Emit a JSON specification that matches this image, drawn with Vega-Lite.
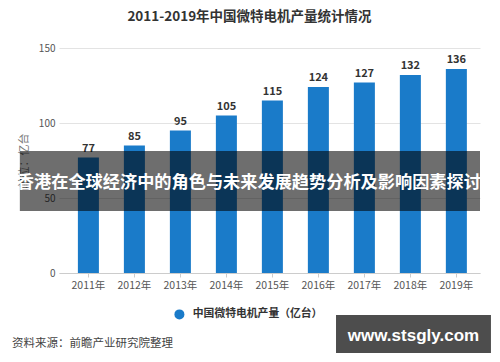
{
  "$schema": "https://vega.github.io/schema/vega-lite/v6.json",
  "width": 421,
  "height": 225,
  "autosize": {"type": "none"},
  "padding": {"left": 59, "top": 48, "right": 20, "bottom": 89},
  "background": "white",
  "config": {"font": "Noto Sans CJK SC", "view": {"stroke": null}},
  "title": {"text": "2011-2019年中国微特电机产量统计情况", "fontSize": 13.5, "fontWeight": "bold", "color": "#333333", "dx": -20, "offset": 20, "anchor": "middle"},
  "data": {"values": [
    {"year": "2011年", "value": 77, "series": "中国微特电机产量（亿台）"},
    {"year": "2012年", "value": 85, "series": "中国微特电机产量（亿台）"},
    {"year": "2013年", "value": 95, "series": "中国微特电机产量（亿台）"},
    {"year": "2014年", "value": 105, "series": "中国微特电机产量（亿台）"},
    {"year": "2015年", "value": 115, "series": "中国微特电机产量（亿台）"},
    {"year": "2016年", "value": 124, "series": "中国微特电机产量（亿台）"},
    {"year": "2017年", "value": 127, "series": "中国微特电机产量（亿台）"},
    {"year": "2018年", "value": 132, "series": "中国微特电机产量（亿台）"},
    {"year": "2019年", "value": 136, "series": "中国微特电机产量（亿台）"}
  ]},
  "layer": [
    {
      "encoding": {
        "x": {"field": "year", "type": "nominal", "sort": null,
          "scale": {"paddingInner": 0.543, "paddingOuter": 0.348, "align": 0.59},
          "axis": {"title": null, "labelAngle": 0, "labelFontSize": 10.5, "labelColor": "#555555", "domainColor": "#cccccc", "tickColor": "#cccccc", "tickSize": 4, "labelPadding": 3, "grid": false}},
        "y": {"field": "value", "type": "quantitative", "scale": {"domain": [0, 150], "nice": false},
          "axis": {"values": [0, 50, 100, 150], "grid": true, "gridColor": "#e3e3e3", "domain": false, "ticks": false, "labelFontSize": 10, "labelColor": "#555555", "labelPadding": 4, "title": "单位：亿台", "titleFontSize": 11, "titleColor": "#777777", "titleFontWeight": "normal", "titlePadding": 9}}
      },
      "layer": [
        {
          "mark": {"type": "bar"},
          "encoding": {
            "color": {"field": "series", "type": "nominal", "scale": {"range": ["#1a7bc9"]},
              "legend": {"orient": "none", "legendX": 115, "legendY": 261, "title": null, "symbolType": "circle", "symbolSize": 100, "symbolStrokeWidth": 0, "labelFontSize": 10.8, "labelFontWeight": "bold", "labelColor": "#333333", "padding": 0, "labelOffset": 8}}
          }
        },
        {
          "mark": {"type": "text", "baseline": "bottom", "dy": -4, "fontWeight": "bold", "fontSize": 11, "color": "#333333"},
          "encoding": {
            "text": {"field": "value", "type": "quantitative"}
          }
        }
      ]
    },
    {
      "data": {"values": [{}]},
      "mark": {"type": "rect", "color": "black", "opacity": 0.57},
      "encoding": {
        "x": {"datum": -0.093, "type": "quantitative", "scale": {"domain": [0, 1], "nice": false, "zero": false}, "axis": null},
        "x2": {"datum": 1.0},
        "y": {"datum": 81.3, "type": "quantitative", "scale": {"domain": [0, 150], "nice": false}, "axis": null},
        "y2": {"datum": 41.3}
      }
    },
    {
      "data": {"values": [{"label": "香港在全球经济中的角色与未来发展趋势分析及影响因素探讨"}]},
      "mark": {"type": "text", "color": "white", "fontSize": 17.2, "fontWeight": "bold", "align": "center", "baseline": "middle"},
      "encoding": {
        "x": {"datum": 0.451, "type": "quantitative", "scale": {"domain": [0, 1], "nice": false, "zero": false}, "axis": null},
        "y": {"datum": 60, "type": "quantitative", "scale": {"domain": [0, 150], "nice": false}, "axis": null},
        "text": {"field": "label", "type": "nominal"}
      }
    },
    {
      "data": {"values": [{}]},
      "mark": {"type": "rect", "color": "#4d4d4d", "opacity": 1},
      "encoding": {
        "x": {"datum": 0.658, "type": "quantitative", "scale": {"domain": [0, 1], "nice": false, "zero": false}, "axis": null},
        "x2": {"datum": 1.026},
        "y": {"datum": -28, "type": "quantitative", "scale": {"domain": [0, 150], "nice": false}, "axis": null},
        "y2": {"datum": -53.3}
      }
    },
    {
      "data": {"values": [{"label": "www.stsgly.com"}]},
      "mark": {"type": "text", "color": "white", "fontSize": 17, "fontWeight": "bold", "font": "Liberation Sans", "align": "center", "baseline": "middle"},
      "encoding": {
        "x": {"datum": 0.842, "type": "quantitative", "scale": {"domain": [0, 1], "nice": false, "zero": false}, "axis": null},
        "y": {"datum": -42.3, "type": "quantitative", "scale": {"domain": [0, 150], "nice": false}, "axis": null},
        "text": {"field": "label", "type": "nominal"}
      }
    },
    {
      "data": {"values": [{"label": "资料来源：前瞻产业研究院整理"}]},
      "mark": {"type": "text", "color": "#444444", "fontSize": 11.5, "align": "left", "baseline": "middle"},
      "encoding": {
        "x": {"datum": -0.1116, "type": "quantitative", "scale": {"domain": [0, 1], "nice": false, "zero": false}, "axis": null},
        "y": {"datum": -47.3, "type": "quantitative", "scale": {"domain": [0, 150], "nice": false}, "axis": null},
        "text": {"field": "label", "type": "nominal"}
      }
    }
  ],
  "resolve": {"scale": {"x": "independent"}, "axis": {"y": "independent"}}
}
